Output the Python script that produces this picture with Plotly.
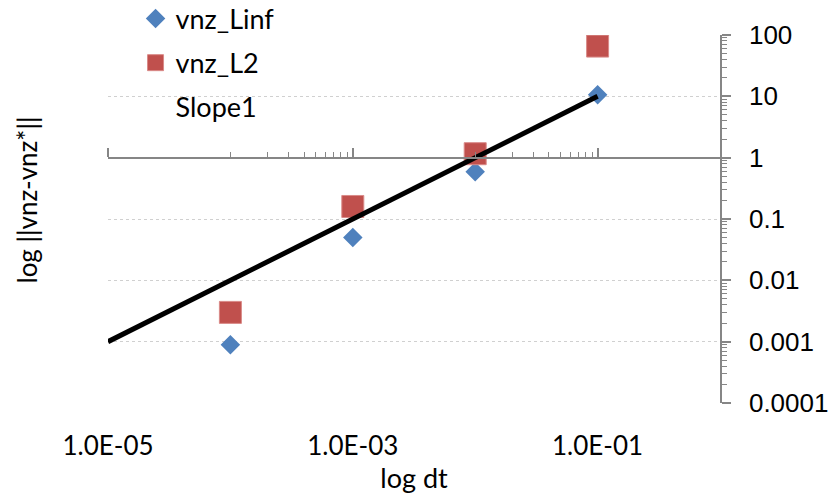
import plotly.graph_objects as go

# Time-step convergence data
dt = [1e-4, 1e-3, 1e-2, 1e-1]
err_linf = [0.00089, 0.05, 0.59, 10.6]
err_l2 = [0.003, 0.16, 1.16, 66]

# Reference slope-1 line
slope_dt = [1e-5, 1e-1]
slope_err = [1e-3, 10]

y_tickvals = [1e-4, 1e-3, 1e-2, 1e-1, 1, 10, 100]
y_ticktext = ["0.0001", "0.001", "0.01", "0.1", "1", "10", "100"]
x_tickvals = [1e-5, 1e-3, 1e-1]
x_ticktext = ["1.0E-05", "1.0E-03", "1.0E-01"]

CAL = "Lato"
AXIS_GRAY = "#868686"

y_minor = [k * 10.0 ** e for e in range(-4, 2) for k in range(2, 10)]
x_minor = [k * 10.0 ** e for e in (-4, -2) for k in range(1, 10)]

fig = go.Figure()

fig.add_trace(go.Scatter(
    x=dt, y=err_linf, name="vnz_Linf", mode="markers",
    marker=dict(symbol="diamond", size=15, color="#4F81BD"),
    legendgroup="a",
))
fig.add_trace(go.Scatter(
    x=dt, y=err_l2, name="vnz_L2", mode="markers",
    marker=dict(symbol="square", size=22, color="#C0504D",
                line=dict(color="#D98A88", width=1)),
    legendgroup="b",
))
# legend entry for the slope line (text only)
fig.add_trace(go.Scatter(
    x=[None], y=[None], name="Slope1", mode="lines",
    line=dict(color="rgba(0,0,0,0)", width=1),
    legendgroup="c",
))
fig.add_trace(go.Scatter(
    x=slope_dt, y=slope_err, name="Slope1", mode="lines",
    line=dict(color="black", width=5),
    showlegend=False, xaxis="x2",
))

fig.update_layout(
    width=830, height=495,
    margin=dict(l=108, r=110, t=35, b=92, autoexpand=False),
    paper_bgcolor="white", plot_bgcolor="white",
    font=dict(family=CAL, size=27, color="black"),
    showlegend=True,
    legend=dict(
        x=0.045, y=1.11, xanchor="left", yanchor="top",
        font=dict(family=CAL, size=27, color="black"),
        bgcolor="rgba(0,0,0,0)", traceorder="grouped",
        tracegroupgap=6,
    ),
    xaxis=dict(
        type="log", range=[-5, 0],
        tickvals=x_tickvals, ticktext=x_ticktext,
        tickfont=dict(family=CAL, size=26, color="black"),
        ticks="outside", ticklen=20, tickcolor="rgba(0,0,0,0)",
        showline=False, showgrid=False, zeroline=False,
        title=dict(text="log dt", font=dict(family=CAL, size=27), standoff=4),
    ),
    xaxis2=dict(
        type="log", range=[-5, 0], overlaying="x",
        anchor="free", position=4 / 6, side="top",
        showline=True, linecolor=AXIS_GRAY, linewidth=1.5,
        tickvals=x_tickvals, ticks="outside", ticklen=9, tickwidth=1.5,
        tickcolor=AXIS_GRAY, showticklabels=False,
        minor=dict(tickvals=x_minor, ticks="outside", ticklen=5,
                   tickcolor=AXIS_GRAY, tickwidth=1, showgrid=False),
        showgrid=False, zeroline=False,
    ),
    yaxis=dict(
        type="log", range=[-4, 2], side="right",
        tickvals=y_tickvals, ticktext=y_ticktext,
        tickfont=dict(family="Liberation Sans", size=26, color="black"),
        showline=True, linecolor=AXIS_GRAY, linewidth=1.5,
        ticks="outside", ticklen=9, tickwidth=1.5, tickcolor=AXIS_GRAY,
        ticklabelstandoff=13,
        minor=dict(tickvals=y_minor, ticks="outside", ticklen=5,
                   tickcolor=AXIS_GRAY, tickwidth=1, showgrid=False),
        showgrid=True, gridcolor="#D0D0D0", gridwidth=1, griddash="dot",
        zeroline=False,
    ),
    annotations=[dict(
        text="log ||vnz-vnz*||", textangle=-90,
        xref="paper", yref="paper", x=-0.133, y=0.552,
        xanchor="center", yanchor="middle", showarrow=False,
        font=dict(family=CAL, size=26, color="black"),
    )],
)

fig.write_html("out.html")
